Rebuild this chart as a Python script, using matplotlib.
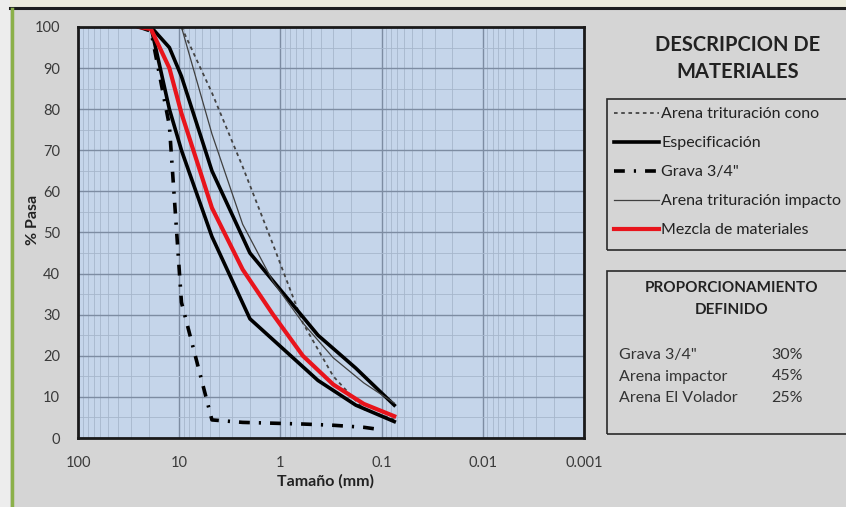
import matplotlib.pyplot as plt
from matplotlib.patches import Rectangle
from matplotlib.lines import Line2D
from matplotlib.ticker import FixedLocator, FuncFormatter, LogLocator, MultipleLocator, NullFormatter

plt.rcParams['font.family'] = ['Lato', 'DejaVu Sans']

# datos granulometricos (tamaño en mm, % pasa)
tamiz = [25, 19, 12.5, 9.5, 4.75, 2.36, 1.18, 0.6, 0.3, 0.15, 0.075]
mezcla = [100, 99.5, 90, 79, 56, 41, 30, 20, 13, 8.3, 5.3]

tamiz_grava = [25, 19, 12.5, 9.5, 4.75, 2.36, 1.18, 0.6, 0.3, 0.15, 0.1]
grava = [100, 99, 76, 33, 4.4, 3.8, 3.6, 3.4, 3.1, 2.6, 2.0]

tamiz_arena = [9.5, 4.75, 2.36, 1.18, 0.6, 0.3, 0.15, 0.075]
arena_impacto = [100, 74, 52, 38, 28, 19.5, 13.4, 8.5]
arena_cono = [100, 84, 66, 47, 28, 15, 7, 4.5]

tamiz_espec = [19, 12.5, 9.5, 4.75, 2.0, 0.425, 0.18, 0.075]
espec_sup = [100, 95, 88, 65, 45, 25, 17, 8]
espec_inf = [100, 80, 70, 49, 29, 14, 8, 4]

materiales = ['Grava 3/4"', 'Arena impactor', 'Arena El Volador']
proporcion = ['30%', '45%', '25%']

W, H = 846, 507


def fx(x):
    return x / W


def fy(y):
    return 1 - y / H


fig = plt.figure(figsize=(W / 100, H / 100), dpi=100)
fig.patch.set_facecolor('#d5d5d5')

# marco de la captura
fig.add_artist(Rectangle((0, fy(8)), 1, 8 / H, transform=fig.transFigure,
                         facecolor='#ecebdc', edgecolor='none'))
fig.add_artist(Rectangle((0, 0), fx(10), 1, transform=fig.transFigure,
                         facecolor='#ededed', edgecolor='none'))
fig.add_artist(Line2D([fx(10), 1], [fy(8), fy(8)], transform=fig.transFigure,
                      color='#1e1e1e', lw=2.2))
fig.add_artist(Line2D([fx(12), fx(12)], [fy(9), 0], transform=fig.transFigure,
                      color='#8bb04a', lw=2.5))

ax = fig.add_axes([fx(78), fy(438), (584 - 78) / W, (438 - 27) / H])
ax.set_facecolor('#c5d5ea')
ax.set_xscale('log')
ax.set_xlim(100, 0.001)
ax.set_ylim(0, 100)

ax.xaxis.set_major_locator(FixedLocator([100, 10, 1, 0.1, 0.01, 0.001]))
ax.xaxis.set_major_formatter(FuncFormatter(lambda v, _: f'{v:g}'))
ax.xaxis.set_minor_locator(LogLocator(base=10, subs=range(2, 10), numticks=50))
ax.xaxis.set_minor_formatter(NullFormatter())
ax.yaxis.set_major_locator(MultipleLocator(10))
ax.yaxis.set_minor_locator(MultipleLocator(5))

ax.grid(which='major', color='#7d8ca2', lw=1.0)
ax.grid(which='minor', color='#a6b6cc', lw=0.6)
ax.set_axisbelow(True)
ax.tick_params(which='both', length=0, labelsize=10.5, colors='#3a3a3a')
ax.tick_params(axis='x', pad=13)
ax.tick_params(axis='y', pad=13)
for s in ax.spines.values():
    s.set_linewidth(2)
    s.set_color('#1a1a1a')

l_cono, = ax.plot(tamiz_arena, arena_cono, color='#444444', lw=1.3, ls=(0, (2, 2)))
l_sup, = ax.plot(tamiz_espec, espec_sup, color='black', lw=2.6)
ax.plot(tamiz_espec, espec_inf, color='black', lw=2.6)
l_grava, = ax.plot(tamiz_grava, grava, color='black', lw=2.6, ls=(0, (3, 2.5, 0.6, 2.5)))
l_imp, = ax.plot(tamiz_arena, arena_impacto, color='#404040', lw=0.9)
l_mez, = ax.plot(tamiz, mezcla, color='#e8141c', lw=3.0)

fig.text(fx(33), fy(220), '% Pasa', rotation=90, ha='center', va='center',
         fontsize=11.5, fontweight='bold', color='#222222')
fig.text(fx(325), fy(481), 'Tamaño (mm)', ha='center', va='center',
         fontsize=11.5, fontweight='bold', color='#222222')

# panel derecho
fig.text(fx(738), fy(45), 'DESCRIPCION DE', ha='center', va='center',
         fontsize=14.5, fontweight='bold', color='#222222')
fig.text(fx(738), fy(72), 'MATERIALES', ha='center', va='center',
         fontsize=14.5, fontweight='bold', color='#222222')

fig.add_artist(Rectangle((fx(607), fy(250)), (W + 5 - 607) / W, (250 - 99) / H,
                         transform=fig.transFigure, facecolor='none',
                         edgecolor='#2a2a2a', lw=1.2))
fig.legend([l_cono, l_sup, l_grava, l_imp, l_mez],
           ['Arena trituración cono', 'Especificación', 'Grava 3/4"',
            'Arena trituración impacto', 'Mezcla de materiales'],
           loc='upper left', bbox_to_anchor=(fx(614), fy(107)), frameon=False,
           fontsize=11.5, handlelength=2.8, handletextpad=0.15, labelspacing=0.93,
           borderpad=0, borderaxespad=0, labelcolor='#222222')

fig.add_artist(Rectangle((fx(607), fy(434)), (W + 5 - 607) / W, (434 - 271) / H,
                         transform=fig.transFigure, facecolor='none',
                         edgecolor='#2a2a2a', lw=1.2))
fig.text(fx(732), fy(288), 'PROPORCIONAMIENTO', ha='center', va='center',
         fontsize=11, fontweight='bold', color='#222222')
fig.text(fx(732), fy(310), 'DEFINIDO', ha='center', va='center',
         fontsize=11, fontweight='bold', color='#222222')
for i, (m, p) in enumerate(zip(materiales, proporcion)):
    y = 355 + i * 21.5
    fig.text(fx(619), fy(y), m, ha='left', va='center', fontsize=11.5, color='#333333')
    fig.text(fx(803), fy(y), p, ha='right', va='center', fontsize=11.5, color='#333333')

fig.savefig('out.png', dpi=100, facecolor=fig.get_facecolor())
